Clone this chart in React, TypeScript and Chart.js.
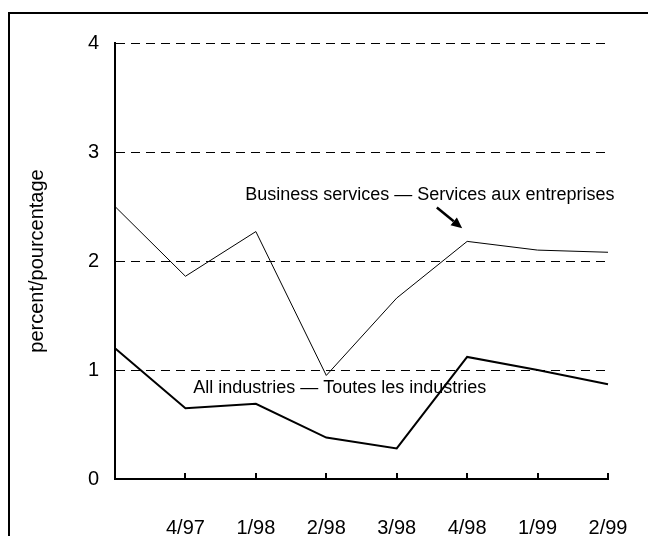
import React, { useEffect, useRef } from "react";
import { Chart, registerables } from "chart.js";

Chart.register(...registerables);

const quarters = ["", "4/97", "1/98", "2/98", "3/98", "4/98", "1/99", "2/99"];
const businessServices = [2.5, 1.86, 2.27, 0.95, 1.66, 2.18, 2.1, 2.08];
const allIndustries = [1.2, 0.65, 0.69, 0.38, 0.28, 1.12, 1.0, 0.87];
const yTicks = [0, 1, 2, 3, 4];

const businessLabel = "Business services \u2014 Services aux entreprises";
const allLabel = "All industries \u2014 Toutes les industries";

const FONT = "'Liberation Sans', Arial, sans-serif";

const decorPlugin = {
  id: "decor",
  beforeDraw(chart: any) {
    const ctx = chart.ctx;
    ctx.save();
    ctx.fillStyle = "#fff";
    ctx.fillRect(0, 0, chart.width, chart.height);
    ctx.strokeStyle = "#000";
    ctx.lineWidth = 2;
    ctx.beginPath();
    ctx.moveTo(9, chart.height + 2);
    ctx.lineTo(9, 13);
    ctx.lineTo(chart.width + 2, 13);
    ctx.stroke();
    ctx.restore();
  },
  afterDatasetsDraw(chart: any) {
    const ctx = chart.ctx;
    const xs = chart.scales.x;
    const ys = chart.scales.y;
    const bottom = chart.chartArea.bottom;
    ctx.save();
    ctx.strokeStyle = "#000";
    ctx.lineWidth = 2;
    for (let i = 1; i < quarters.length; i++) {
      const x = Math.round(xs.getPixelForValue(i));
      ctx.beginPath();
      ctx.moveTo(x, bottom);
      ctx.lineTo(x, bottom - 6);
      ctx.stroke();
    }
    // annotation texts
    ctx.fillStyle = "#000";
    ctx.font = `18px ${FONT}`;
    ctx.textBaseline = "alphabetic";
    ctx.textAlign = "left";
    ctx.fillText(businessLabel, xs.getPixelForValue(1.85), ys.getPixelForValue(2.56));
    ctx.fillText(allLabel, xs.getPixelForValue(1.11), ys.getPixelForValue(0.79));
    // arrow
    const x1 = xs.getPixelForValue(4.57);
    const y1 = ys.getPixelForValue(2.49);
    const x2 = xs.getPixelForValue(4.93);
    const y2 = ys.getPixelForValue(2.3);
    const ang = Math.atan2(y2 - y1, x2 - x1);
    const head = 11;
    const bx = x2 - head * Math.cos(ang);
    const by = y2 - head * Math.sin(ang);
    ctx.lineWidth = 2.5;
    ctx.beginPath();
    ctx.moveTo(x1, y1);
    ctx.lineTo(bx, by);
    ctx.stroke();
    ctx.beginPath();
    ctx.moveTo(x2, y2);
    ctx.lineTo(bx + 5 * Math.sin(ang), by - 5 * Math.cos(ang));
    ctx.lineTo(bx - 5 * Math.sin(ang), by + 5 * Math.cos(ang));
    ctx.closePath();
    ctx.fill();
    ctx.restore();
  },
};

export default function App() {
  const ref = useRef<HTMLCanvasElement>(null);
  useEffect(() => {
    if (!ref.current) return;
    const chart = new Chart(ref.current, {
      type: "line",
      data: {
        labels: quarters,
        datasets: [
          {
            label: "Business services",
            data: businessServices,
            borderColor: "#000",
            borderWidth: 1,
            pointRadius: 0,
            tension: 0,
            fill: false,
          },
          {
            label: "All industries",
            data: allIndustries,
            borderColor: "#000",
            borderWidth: 2,
            pointRadius: 0,
            tension: 0,
            fill: false,
          },
        ],
      },
      options: {
        responsive: false,
        animation: false,
        events: [],
        layout: { padding: { top: 43, right: 40, bottom: 0, left: 0 } },
        plugins: {
          legend: { display: false },
          tooltip: { enabled: false },
          title: { display: false },
        },
        scales: {
          x: {
            type: "category",
            offset: false,
            grid: { display: false, drawTicks: true, tickLength: 35 },
            border: { display: true, color: "#000", width: 2 },
            ticks: {
              color: "#000",
              font: { family: FONT, size: 20 },
              padding: 2,
              maxRotation: 0,
              autoSkip: false,
            },
            afterFit(scale: any) {
              scale.height = 57;
            },
          },
          y: {
            min: 0,
            max: 4,
            afterBuildTicks(scale: any) {
              scale.ticks = yTicks.map((v) => ({ value: v }));
            },
            grid: {
              color: (c: any) => (c.tick && c.tick.value === 0 ? "rgba(0,0,0,0)" : "#000"),
              lineWidth: 1,
              drawTicks: false,
            },
            border: { display: true, color: "#000", width: 2, dash: [9, 6] },
            ticks: {
              color: "#000",
              font: { family: FONT, size: 20 },
              padding: 16,
            },
            title: {
              display: true,
              text: "percent/pourcentage",
              color: "#000",
              font: { family: FONT, size: 20 },
              padding: { top: 25, bottom: 0 },
            },
            afterFit(scale: any) {
              scale.width = 115;
            },
          },
        },
      },
      plugins: [decorPlugin],
    });
    return () => chart.destroy();
  }, []);
  return (
    <div style={{ position: "fixed", left: 0, top: 0, width: 648, height: 536, background: "#fff" }}>
      <canvas ref={ref} width={648} height={536} style={{ display: "block" }} />
    </div>
  );
}
